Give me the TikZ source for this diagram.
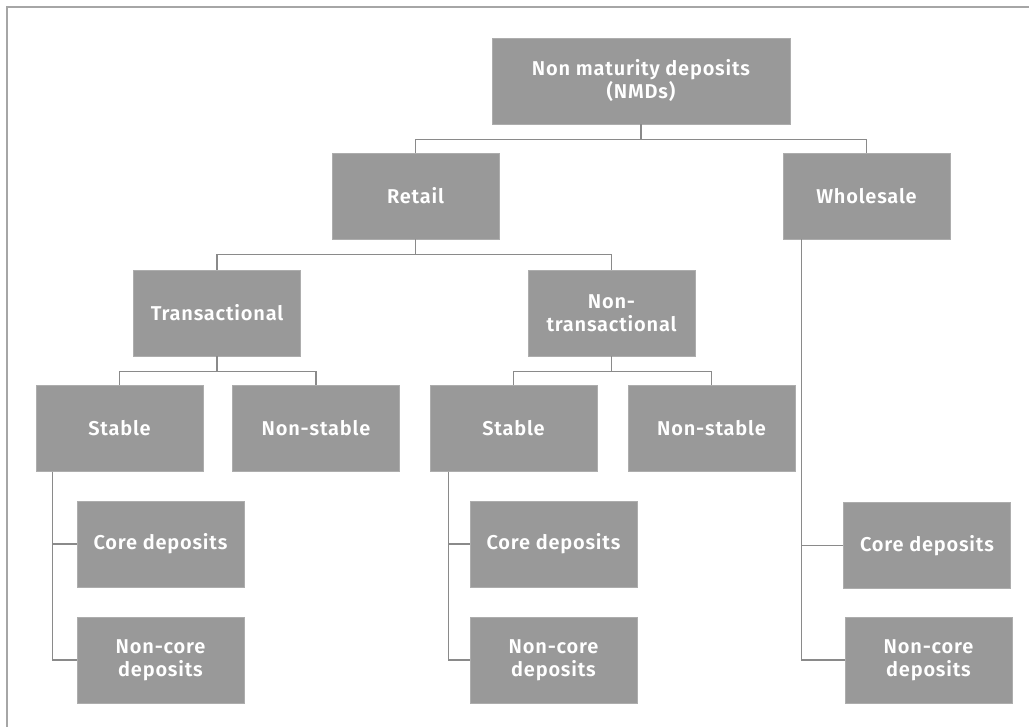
\documentclass[tikz,border=0pt]{standalone}
\usepackage{fontspec}
\setmainfont{Fira Sans}[BoldFont={Fira Sans SemiBold}, LetterSpace=4]
\definecolor{boxgrey}{HTML}{999999}
\definecolor{linegrey}{HTML}{8A8A8A}
\definecolor{framegrey}{HTML}{A6A6A6}
\tikzset{
  box/.style={fill=boxgrey, draw=boxgrey!80!white, line width=0.4pt, text=white, align=center,
    minimum width=125.25pt, minimum height=64.5pt, inner sep=0pt,
    font=\fontsize{15}{17.25}\selectfont\bfseries},
  wide/.style={box, minimum width=223.5pt},
  link/.style={draw=linegrey, line width=0.9pt},
}
\begin{document}
\begin{tikzpicture}[x=0.75pt,y=-0.75pt]
\useasboundingbox (0,0) rectangle (1029,727);
\draw[framegrey, line width=1.3pt] (7,727) -- (7,7) -- (1029,7);

\node[wide] (nmd) at (641,81) {Non maturity deposits\\(NMDs)};
\node[box] (retail) at (415.5,196) {Retail};
\node[box] (whole) at (866.5,196) {Wholesale};
\node[box] (trans) at (217,313) {Transactional};
\node[box] (nontrans) at (611.5,313) {Non-\\transactional};
\node[box] (st1) at (119.5,428.5) {Stable};
\node[box] (ns1) at (316,428.5) {Non-stable};
\node[box] (st2) at (513.5,428.5) {Stable};
\node[box] (ns2) at (711.5,428.5) {Non-stable};
\node[box] (core1) at (160.5,544) {Core deposits};
\node[box] (ncore1) at (160.5,660) {Non-core\\deposits};
\node[box] (core2) at (553.5,544) {Core deposits};
\node[box] (ncore2) at (553.5,660) {Non-core\\deposits};
\node[box] (core3) at (927,545.5) {Core deposits};
\node[box] (ncore3) at (928.5,660) {Non-core\\deposits};

\draw[link] (nmd.south) -- ++(0,15) -| (retail.north);
\draw[link] (nmd.south) -- ++(0,15) -| (whole.north);
\draw[link] (retail.south) -- ++(0,15) -| (trans.north);
\draw[link] (retail.south) -- ++(0,15) -| (nontrans.north);
\draw[link] (trans.south) -- ++(0,15) -| (st1.north);
\draw[link] (trans.south) -- ++(0,15) -| (ns1.north);
\draw[link] (nontrans.south) -- ++(0,15) -| (st2.north);
\draw[link] (nontrans.south) -- ++(0,15) -| (ns2.north);

\draw[link] ([xshift=12.75pt]st1.south west) |- (core1.west);
\draw[link] ([xshift=12.75pt]st1.south west) |- (ncore1.west);
\draw[link] ([xshift=14.25pt]st2.south west) |- (core2.west);
\draw[link] ([xshift=14.25pt]st2.south west) |- (ncore2.west);
\draw[link] ([xshift=14.25pt]whole.south west) |- (core3.west);
\draw[link] ([xshift=14.25pt]whole.south west) |- (ncore3.west);
\end{tikzpicture}
\end{document}
